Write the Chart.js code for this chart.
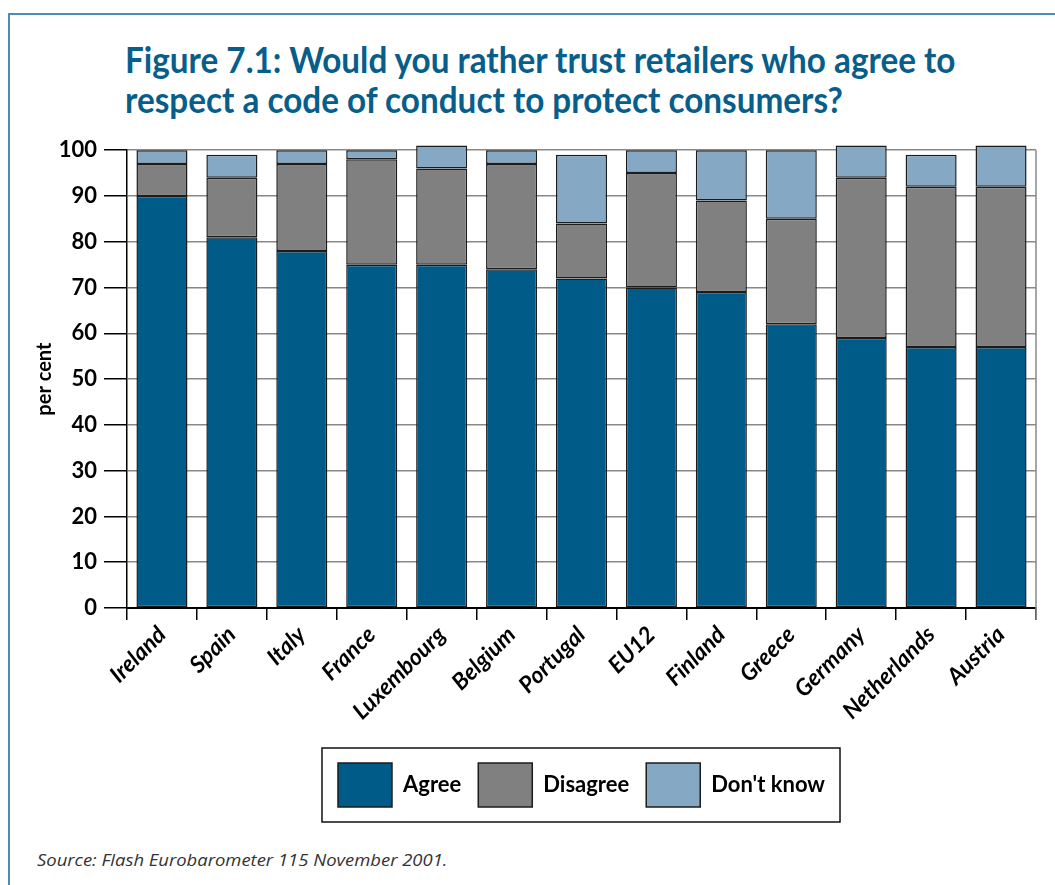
<!DOCTYPE html>
<html>
<head>
<meta charset="utf-8">
<title>Figure 7.1</title>
<script src="https://cdn.jsdelivr.net/npm/chart.js@4/dist/chart.umd.min.js"></script>
<style>
  html, body { margin: 0; padding: 0; background: #fff; }
  body { width: 1055px; height: 885px; position: relative; overflow: hidden; font-family: Lato, sans-serif; }
  .frame {
    position: absolute; left: 8px; top: 13px; right: -4px; bottom: -4px;
    border-top: 2px solid #4a8db8; border-left: 2px solid #4a8db8;
  }
  .title {
    position: absolute; left: 125px; top: 39px;
    color: #075e8b; font: 700 37px/40px Lato, sans-serif;
    white-space: nowrap; transform-origin: 0 0;
  }
  .chartBox { position: absolute; left: 0; top: 130px; width: 1055px; height: 700px; }
  .source {
    position: absolute; left: 37px; top: 848px;
    font: italic 17px "Open Sans", sans-serif; color: #333;
    white-space: nowrap; transform-origin: 0 0;
  }
</style>
</head>
<body>
<div class="frame"></div>
<div class="title" id="title">
  <div id="titleLine1">Figure 7.1: Would you rather trust retailers who agree to</div>
  <div>respect a code of conduct to protect consumers?</div>
</div>
<div class="chartBox"><canvas id="chart"></canvas></div>
<div class="source" id="source">Source: Flash Eurobarometer 115 November 2001.</div>

<script>
// ── Data (per cent) ──────────────────────────────────────────
const countries = ['Ireland', 'Spain', 'Italy', 'France', 'Luxembourg', 'Belgium', 'Portugal',
                   'EU12', 'Finland', 'Greece', 'Germany', 'Netherlands', 'Austria'];
const agree     = [90, 81, 78, 75, 75, 74, 72, 70, 69, 62, 59, 57, 57];
const disagree  = [ 7, 13, 19, 23, 21, 23, 12, 25, 20, 23, 35, 35, 35];
const dontKnow  = [ 3,  5,  3,  2,  5,  3, 15,  5, 11, 15,  7,  7,  9];
const yTicks    = [0, 10, 20, 30, 40, 50, 60, 70, 80, 90, 100];

// ── Text widths (the original face is narrower / wider) ──────
const titleEl = document.getElementById('title');
const w1 = document.getElementById('titleLine1').scrollWidth;
titleEl.style.transform = `scaleX(${830 / w1})`;
const srcEl = document.getElementById('source');
srcEl.style.transform = `scaleX(${410 / srcEl.scrollWidth})`;

// ── Plugins ──────────────────────────────────────────────────
// gray right-hand frame of the plot
const plotFrame = {
  id: 'plotFrame',
  beforeDatasetsDraw(chart) {
    const { ctx, chartArea: a } = chart;
    ctx.save();
    ctx.strokeStyle = '#888';
    ctx.lineWidth = 1.5;
    ctx.beginPath();
    ctx.moveTo(a.right, a.top);
    ctx.lineTo(a.right, a.bottom + 12);
    ctx.stroke();
    ctx.restore();
  }
};

// black box round the legend
const legendBox = {
  id: 'legendBox',
  afterDraw(chart) {
    const boxes = chart.legend.legendHitBoxes;
    if (!boxes || !boxes.length) return;
    const left   = Math.min(...boxes.map(b => b.left)) - 16;
    const right  = Math.max(...boxes.map(b => b.left + b.width)) + 15;
    const top    = Math.min(...boxes.map(b => b.top)) - 15;
    const bottom = Math.max(...boxes.map(b => b.top + b.height)) + 15;
    const { ctx } = chart;
    ctx.save();
    ctx.strokeStyle = '#111';
    ctx.lineWidth = 1.5;
    ctx.strokeRect(left, top, right - left, bottom - top);
    ctx.restore();
  }
};

const barStyle = { borderColor: '#1c1c1c', borderWidth: 1.5, borderSkipped: false, clip: false };

new Chart(document.getElementById('chart'), {
  type: 'bar',
  data: {
    labels: countries,
    datasets: [
      { label: 'Agree',      data: agree,    backgroundColor: '#005b88', ...barStyle },
      { label: 'Disagree',   data: disagree, backgroundColor: '#808080', ...barStyle },
      { label: "Don't know", data: dontKnow, backgroundColor: '#85a8c5', ...barStyle }
    ]
  },
  options: {
    responsive: true, maintainAspectRatio: false, animation: false,
    layout: { padding: { top: 19, right: 19, left: 0, bottom: 13 } },
    categoryPercentage: 1, barPercentage: 0.73,
    plugins: {
      tooltip: { enabled: false },
      legend: {
        position: 'bottom', fullSize: false,
        labels: {
          boxWidth: 54, boxHeight: 44, padding: 17, color: '#000',
          font: { family: 'Lato', size: 22, weight: 'bold' }
        }
      }
    },
    scales: {
      x: {
        stacked: true,
        afterFit: s => { s.height = 138; },
        border: { color: '#000', width: 2 },
        grid: { offset: true, drawOnChartArea: false, drawTicks: true, tickLength: 12, tickColor: '#000', lineWidth: 1.5 },
        ticks: {
          minRotation: 45, maxRotation: 45, padding: 1, color: '#000', autoSkip: false,
          font: { family: 'Lato', size: 23, weight: 'bold', style: 'italic' }
        }
      },
      y: {
        stacked: true, min: 0, max: 100,
        afterFit: s => { s.width = 127; },
        afterBuildTicks: s => { s.ticks = yTicks.map(v => ({ value: v })); },
        border: { color: '#000', width: 1.5 },
        grid: { color: '#888', lineWidth: 1.5, tickColor: '#000', tickLength: 23 },
        ticks: {
          padding: 7, color: '#000',
          font: { family: 'Lato', size: 22, weight: 'bold' }
        },
        title: {
          display: true, text: 'per cent', color: '#000',
          padding: { top: 33, bottom: 0 },
          font: { family: 'Lato', size: 20, weight: 'bold' }
        }
      }
    }
  },
  plugins: [plotFrame, legendBox]
});
</script>
</body>
</html>
